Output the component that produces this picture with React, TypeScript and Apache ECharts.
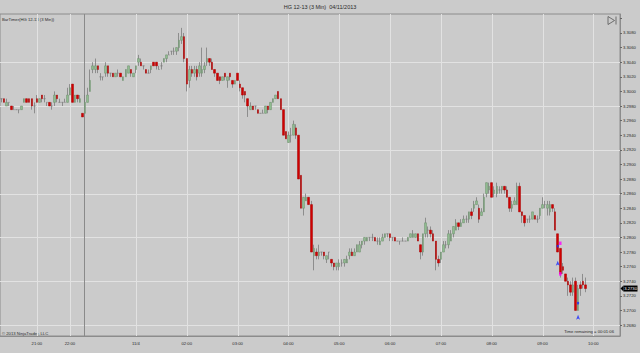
import React, { useEffect, useRef } from 'react';
import * as echarts from 'echarts';

const chartTitle = 'HG 12-13 (3 Min)  04/11/2013';
const indicatorLabel = 'BarTimer(HG 12-13 (3 Min))';
const copyrightLabel = '© 2013 NinjaTrader, LLC';
const timeRemainingLabel = 'Time remaining = 00:01:06';

// number of 3-minute bar slots on the time axis (includes empty future slots)
const slotCount = 244;

// [open, close, low, high]
const ohlc: number[][] = [
  [3.2990, 3.2990, 3.2985, 3.2990], [3.2990, 3.2985, 3.2985, 3.2990], [3.2980, 3.2985, 3.2980, 3.2990], [3.2985, 3.2985, 3.2980, 3.2985],
  [3.2980, 3.2975, 3.2975, 3.2980], [3.2975, 3.2975, 3.2975, 3.2980], [3.2975, 3.2975, 3.2975, 3.2975], [3.2975, 3.2975, 3.2970, 3.2975],
  [3.2975, 3.2980, 3.2975, 3.2980], [3.2985, 3.2990, 3.2985, 3.2990], [3.2990, 3.2985, 3.2985, 3.2990], [3.2990, 3.2985, 3.2985, 3.2990],
  [3.2990, 3.2980, 3.2975, 3.2990], [3.2980, 3.2980, 3.2970, 3.2985], [3.2990, 3.2985, 3.2985, 3.2995], [3.2985, 3.2990, 3.2985, 3.2990],
  [3.2995, 3.2990, 3.2985, 3.2995], [3.2990, 3.2990, 3.2985, 3.2995], [3.2985, 3.2985, 3.2980, 3.2985], [3.2985, 3.2980, 3.2980, 3.2985],
  [3.2980, 3.2980, 3.2975, 3.2985], [3.2985, 3.2995, 3.2980, 3.3000], [3.2995, 3.2990, 3.2985, 3.2995], [3.2985, 3.2985, 3.2985, 3.2990],
  [3.2985, 3.2985, 3.2980, 3.2985], [3.2985, 3.2985, 3.2985, 3.2990], [3.2985, 3.2995, 3.2985, 3.3005], [3.2995, 3.3005, 3.2995, 3.3010],
  [3.3010, 3.2985, 3.2985, 3.3010], [3.2985, 3.2995, 3.2985, 3.2995], [3.2995, 3.2990, 3.2985, 3.2995], [3.2985, 3.2990, 3.2985, 3.2995],
  [3.2970, 3.2965, 3.2965, 3.2970],
  // new session
  [3.2970, 3.2985, 3.2970, 3.2995], [3.2985, 3.2995, 3.2985, 3.3005], [3.3000, 3.3015, 3.3000, 3.3030], [3.3030, 3.3035, 3.3025, 3.3040],
  [3.3030, 3.3035, 3.3025, 3.3045], [3.3035, 3.3030, 3.3025, 3.3035], [3.3020, 3.3020, 3.3015, 3.3025], [3.3020, 3.3020, 3.3015, 3.3020],
  [3.3025, 3.3035, 3.3020, 3.3040], [3.3035, 3.3025, 3.3020, 3.3035], [3.3025, 3.3025, 3.3020, 3.3025], [3.3025, 3.3020, 3.3020, 3.3025],
  [3.3020, 3.3025, 3.3020, 3.3025], [3.3025, 3.3025, 3.3020, 3.3030], [3.3025, 3.3020, 3.3020, 3.3025], [3.3015, 3.3020, 3.3015, 3.3020],
  [3.3020, 3.3030, 3.3020, 3.3030], [3.3025, 3.3035, 3.3025, 3.3035], [3.3030, 3.3025, 3.3020, 3.3030], [3.3020, 3.3025, 3.3020, 3.3025],
  [3.3030, 3.3035, 3.3025, 3.3035], [3.3040, 3.3045, 3.3035, 3.3050], [3.3040, 3.3035, 3.3035, 3.3045], [3.3035, 3.3035, 3.3030, 3.3035],
  [3.3030, 3.3025, 3.3025, 3.3030], [3.3025, 3.3025, 3.3025, 3.3030], [3.3030, 3.3035, 3.3025, 3.3035], [3.3040, 3.3035, 3.3035, 3.3040],
  [3.3040, 3.3035, 3.3030, 3.3040], [3.3030, 3.3030, 3.3030, 3.3035], [3.3035, 3.3035, 3.3030, 3.3040], [3.3040, 3.3045, 3.3040, 3.3045],
  [3.3045, 3.3050, 3.3040, 3.3050], [3.3050, 3.3050, 3.3050, 3.3055], [3.3055, 3.3055, 3.3050, 3.3055], [3.3055, 3.3055, 3.3050, 3.3060],
  [3.3055, 3.3060, 3.3050, 3.3060], [3.3060, 3.3070, 3.3055, 3.3080], [3.3070, 3.3075, 3.3065, 3.3087], [3.3075, 3.3045, 3.3040, 3.3080],
  [3.3045, 3.3010, 3.3000, 3.3045], [3.3015, 3.3030, 3.3005, 3.3035], [3.3030, 3.3025, 3.3020, 3.3035], [3.3025, 3.3030, 3.3020, 3.3035],
  [3.3030, 3.3020, 3.3015, 3.3035], [3.3025, 3.3035, 3.3020, 3.3040], [3.3025, 3.3030, 3.3020, 3.3060], [3.3030, 3.3035, 3.3025, 3.3040],
  [3.3040, 3.3045, 3.3035, 3.3060], [3.3045, 3.3040, 3.3035, 3.3045], [3.3040, 3.3030, 3.3030, 3.3045], [3.3030, 3.3025, 3.3020, 3.3030],
  [3.3025, 3.3015, 3.3015, 3.3025], [3.3020, 3.3015, 3.3010, 3.3020], [3.3015, 3.3020, 3.3015, 3.3020], [3.3025, 3.3020, 3.3015, 3.3025],
  [3.3015, 3.3020, 3.3005, 3.3020], [3.3025, 3.3020, 3.3015, 3.3025], [3.3015, 3.3010, 3.3005, 3.3015], [3.3010, 3.3015, 3.3010, 3.3015],
  [3.3025, 3.3015, 3.3015, 3.3025], [3.3010, 3.3005, 3.3000, 3.3015], [3.3005, 3.2995, 3.2990, 3.3005], [3.3000, 3.2995, 3.2985, 3.3000],
  [3.2990, 3.2980, 3.2965, 3.2990], [3.2975, 3.2980, 3.2975, 3.2985], [3.2980, 3.2975, 3.2975, 3.2980], [3.2980, 3.2980, 3.2975, 3.2980],
  [3.2975, 3.2970, 3.2970, 3.2975], [3.2970, 3.2970, 3.2970, 3.2970], [3.2970, 3.2970, 3.2970, 3.2975], [3.2970, 3.2980, 3.2970, 3.2980],
  [3.2980, 3.2975, 3.2970, 3.2980], [3.2975, 3.2985, 3.2975, 3.2985], [3.2985, 3.2990, 3.2985, 3.2990], [3.2990, 3.2995, 3.2990, 3.2995],
  [3.3000, 3.2990, 3.2990, 3.3000], [3.2990, 3.2975, 3.2975, 3.2990], [3.2975, 3.2940, 3.2940, 3.2975], [3.2945, 3.2935, 3.2935, 3.2945],
  [3.2930, 3.2940, 3.2930, 3.2945], [3.2940, 3.2940, 3.2930, 3.2950], [3.2940, 3.2955, 3.2940, 3.2960], [3.2950, 3.2940, 3.2935, 3.2955],
  [3.2940, 3.2880, 3.2880, 3.2940], [3.2885, 3.2840, 3.2840, 3.2885], [3.2840, 3.2855, 3.2830, 3.2855], [3.2850, 3.2855, 3.2850, 3.2860],
  [3.2855, 3.2845, 3.2845, 3.2855], [3.2845, 3.2780, 3.2780, 3.2850], [3.2775, 3.2785, 3.2755, 3.2790], [3.2780, 3.2775, 3.2770, 3.2785],
  [3.2775, 3.2780, 3.2770, 3.2790], [3.2780, 3.2780, 3.2775, 3.2780], [3.2780, 3.2775, 3.2770, 3.2780], [3.2770, 3.2775, 3.2765, 3.2775],
  [3.2780, 3.2780, 3.2770, 3.2780], [3.2770, 3.2765, 3.2760, 3.2770], [3.2765, 3.2760, 3.2755, 3.2765], [3.2760, 3.2765, 3.2755, 3.2765],
  [3.2760, 3.2765, 3.2755, 3.2770], [3.2765, 3.2765, 3.2760, 3.2770], [3.2765, 3.2770, 3.2760, 3.2770], [3.2765, 3.2770, 3.2765, 3.2775],
  [3.2775, 3.2780, 3.2770, 3.2785], [3.2780, 3.2775, 3.2775, 3.2785], [3.2775, 3.2780, 3.2775, 3.2785], [3.2780, 3.2790, 3.2780, 3.2790],
  [3.2780, 3.2790, 3.2780, 3.2795], [3.2790, 3.2795, 3.2785, 3.2795], [3.2795, 3.2800, 3.2790, 3.2800], [3.2795, 3.2800, 3.2795, 3.2800],
  [3.2800, 3.2800, 3.2795, 3.2800], [3.2800, 3.2800, 3.2795, 3.2805], [3.2800, 3.2795, 3.2795, 3.2800], [3.2795, 3.2795, 3.2790, 3.2800],
  [3.2790, 3.2795, 3.2790, 3.2800], [3.2795, 3.2800, 3.2795, 3.2805], [3.2800, 3.2805, 3.2800, 3.2805], [3.2805, 3.2805, 3.2800, 3.2805],
  [3.2805, 3.2800, 3.2795, 3.2805], [3.2800, 3.2800, 3.2795, 3.2800], [3.2800, 3.2795, 3.2795, 3.2800], [3.2795, 3.2795, 3.2795, 3.2795],
  [3.2795, 3.2795, 3.2790, 3.2795], [3.2795, 3.2795, 3.2795, 3.2800], [3.2795, 3.2795, 3.2795, 3.2795], [3.2795, 3.2800, 3.2795, 3.2800],
  [3.2800, 3.2805, 3.2800, 3.2805], [3.2800, 3.2805, 3.2800, 3.2810], [3.2800, 3.2805, 3.2800, 3.2805], [3.2805, 3.2795, 3.2795, 3.2805],
  [3.2790, 3.2780, 3.2770, 3.2790], [3.2780, 3.2805, 3.2775, 3.2805], [3.2805, 3.2820, 3.2800, 3.2827], [3.2810, 3.2810, 3.2800, 3.2815],
  [3.2810, 3.2805, 3.2800, 3.2815], [3.2805, 3.2795, 3.2795, 3.2810], [3.2795, 3.2770, 3.2755, 3.2795], [3.2770, 3.2765, 3.2760, 3.2775],
  [3.2770, 3.2780, 3.2765, 3.2780], [3.2780, 3.2790, 3.2780, 3.2795], [3.2790, 3.2790, 3.2785, 3.2795], [3.2790, 3.2805, 3.2785, 3.2810],
  [3.2795, 3.2805, 3.2795, 3.2810], [3.2805, 3.2815, 3.2800, 3.2815], [3.2810, 3.2820, 3.2810, 3.2825], [3.2820, 3.2815, 3.2810, 3.2820],
  [3.2815, 3.2820, 3.2815, 3.2825], [3.2820, 3.2825, 3.2820, 3.2830], [3.2825, 3.2825, 3.2820, 3.2830], [3.2825, 3.2835, 3.2820, 3.2835],
  [3.2835, 3.2830, 3.2825, 3.2840], [3.2840, 3.2845, 3.2835, 3.2850], [3.2845, 3.2850, 3.2845, 3.2855], [3.2840, 3.2825, 3.2820, 3.2845],
  [3.2830, 3.2835, 3.2830, 3.2840], [3.2835, 3.2855, 3.2835, 3.2860], [3.2860, 3.2875, 3.2855, 3.2875], [3.2865, 3.2870, 3.2860, 3.2875],
  [3.2875, 3.2855, 3.2855, 3.2875], [3.2860, 3.2865, 3.2855, 3.2870], [3.2860, 3.2870, 3.2855, 3.2875], [3.2865, 3.2865, 3.2860, 3.2870],
  [3.2865, 3.2870, 3.2860, 3.2870], [3.2870, 3.2865, 3.2860, 3.2870], [3.2865, 3.2855, 3.2855, 3.2870], [3.2855, 3.2840, 3.2835, 3.2855],
  [3.2840, 3.2845, 3.2835, 3.2850], [3.2845, 3.2850, 3.2845, 3.2855], [3.2845, 3.2870, 3.2845, 3.2875], [3.2870, 3.2835, 3.2835, 3.2875],
  [3.2835, 3.2830, 3.2820, 3.2835], [3.2830, 3.2820, 3.2815, 3.2830], [3.2825, 3.2825, 3.2820, 3.2825], [3.2825, 3.2825, 3.2820, 3.2830],
  [3.2825, 3.2835, 3.2825, 3.2835], [3.2830, 3.2825, 3.2825, 3.2830], [3.2825, 3.2825, 3.2820, 3.2830], [3.2830, 3.2840, 3.2825, 3.2840],
  [3.2840, 3.2845, 3.2840, 3.2855], [3.2845, 3.2845, 3.2840, 3.2850], [3.2840, 3.2845, 3.2830, 3.2850], [3.2835, 3.2845, 3.2830, 3.2850],
  [3.2845, 3.2840, 3.2835, 3.2845], [3.2835, 3.2810, 3.2810, 3.2840], [3.2805, 3.2780, 3.2780, 3.2805], [3.2785, 3.2750, 3.2745, 3.2785],
  [3.2760, 3.2755, 3.2750, 3.2765], [3.2750, 3.2740, 3.2740, 3.2750], [3.2740, 3.2735, 3.2720, 3.2745], [3.2735, 3.2725, 3.2720, 3.2740],
  [3.2725, 3.2735, 3.2720, 3.2745], [3.2740, 3.2700, 3.2700, 3.2745], [3.2700, 3.2730, 3.2700, 3.2735], [3.2735, 3.2730, 3.2720, 3.2740],
  [3.2740, 3.2735, 3.2730, 3.2750], [3.2735, 3.2730, 3.2725, 3.2745],
];

// time-axis labels and the bar slot each one sits on
const tickBars = [14, 27, 53, 73, 93, 113, 133, 153, 173, 193, 213, 233];
const tickLabels = ['21:00', '22:00', '11/4', '02:00', '03:00', '04:00', '05:00', '06:00', '07:00', '08:00', '09:00', '10:00'];
const sessionBreakBar = 33;

// price axis
const priceMin = 3.2665;
const priceMax = 3.3106;
const priceStep = 0.002;
const labelTop = 3.3080;
const labelBottom = 3.2680;
const gridPrices = [3.3040, 3.2980, 3.2920, 3.2860, 3.2800, 3.2740, 3.2680];

// strategy markers [bar, price]
const pinkMarks = [[220, 3.2792], [220, 3.2750]];
const blueDots = [[219, 3.2788], [227, 3.2710]];
const blueArrows = [[219, 3.2768], [227, 3.2694]];

const FONT = 'Liberation Sans, Arial, sans-serif';
const BG = '#cbcbcb';
const GRID_LINE = '#e2e2e2';
const FRAME = '#8c8c8c';
const TEXT = '#2a2a2a';

export default function App() {
  const ref = useRef<HTMLDivElement>(null);

  useEffect(() => {
    document.body.style.margin = '0';
    const chart = echarts.init(ref.current!, undefined, { renderer: 'svg' });
    const slots = Array.from({ length: slotCount }, (_, i) => String(i));
    const bodies = ohlc.map(([o, c]) => [o, c, Math.min(o, c), Math.max(o, c)]);
    const lastClose = ohlc[ohlc.length - 1][1];

    chart.setOption({
      animation: false,
      backgroundColor: BG,
      title: {
        text: chartTitle,
        left: 'center',
        top: 4,
        padding: 0,
        textStyle: { fontSize: 5.5, fontWeight: 'normal', color: TEXT, fontFamily: FONT },
      },
      grid: {
        left: 0,
        right: 20,
        top: 14,
        bottom: 17,
        show: true,
        backgroundColor: BG,
        borderColor: FRAME,
        borderWidth: 1,
        containLabel: false,
        outerBoundsMode: 'none',
      },
      xAxis: {
        type: 'category',
        data: slots,
        boundaryGap: true,
        axisLine: { show: true, lineStyle: { color: FRAME } },
        axisTick: { show: false },
        splitLine: { show: false },
        axisLabel: {
          interval: (idx: number) => tickBars.includes(idx),
          formatter: (_v: string, idx: number) => {
            const k = tickBars.indexOf(idx);
            return k >= 0 ? tickLabels[k] : '';
          },
          fontSize: 4.2,
          color: TEXT,
          fontFamily: FONT,
          margin: 5,
        },
      },
      yAxis: {
        type: 'value',
        position: 'right',
        min: priceMin,
        max: priceMax,
        minInterval: priceStep,
        maxInterval: priceStep,
        splitNumber: 22,
        axisLine: { show: true, lineStyle: { color: FRAME } },
        axisTick: { show: true, length: 2, lineStyle: { color: '#666' } },
        splitLine: { show: false },
        axisLabel: {
          showMinLabel: false,
          showMaxLabel: false,
          formatter: (v: number) => (v <= labelTop + 1e-6 && v >= labelBottom - 1e-6 ? v.toFixed(4) : ''),
          fontSize: 4.2,
          color: TEXT,
          fontFamily: FONT,
          margin: 3,
        },
      },
      series: [
        {
          name: 'wicks',
          type: 'candlestick',
          data: ohlc,
          barWidth: 0.8,
          z: 2,
          itemStyle: {
            color: '#7c7c7c', color0: '#7c7c7c', borderColor: '#7c7c7c', borderColor0: '#7c7c7c', borderColorDoji: '#7c7c7c', borderWidth: 0.8,
          },
        },
        {
          name: 'bodies',
          type: 'candlestick',
          data: bodies,
          barWidth: 2,
          z: 3,
          itemStyle: {
            color: '#8fbc8f', color0: '#cf0000', borderColor: '#6e8f6e', borderColor0: '#a80000', borderColorDoji: '#7c7c7c', borderWidth: 0.5,
          },
        },
        { type: 'scatter', data: pinkMarks, symbol: 'rect', symbolSize: [2.5, 3.5], z: 4, itemStyle: { color: '#ff00ff' } },
        { type: 'scatter', data: blueDots, symbol: 'rect', symbolSize: [2, 2.5], z: 4, itemStyle: { color: '#1a2cff' } },
        { type: 'scatter', data: blueArrows, symbol: 'arrow', symbolSize: [3, 5], z: 4, itemStyle: { color: '#1a2cff' } },
      ],
    });

    // grid lines and last-price tag placed through the chart's own scales
    const px = (i: number) => chart.convertToPixel({ xAxisIndex: 0 }, String(i)) as number;
    const py = (p: number) => chart.convertToPixel({ yAxisIndex: 0 }, p) as number;
    const top = py(priceMax);
    const bottom = py(priceMin);
    const left = px(0) - (px(1) - px(0)) / 2;
    const right = px(slotCount - 1) + (px(1) - px(0)) / 2;
    const crisp = (v: number) => Math.round(v) + 0.5;

    const hLines = gridPrices.map((p) => ({
      type: 'line', z: 1, silent: true,
      shape: { x1: left, y1: crisp(py(p)), x2: right, y2: crisp(py(p)) },
      style: { stroke: GRID_LINE, lineWidth: 1 },
    }));
    const vLines = tickBars.map((b) => ({
      type: 'line', z: 1, silent: true,
      shape: { x1: crisp(px(b)), y1: top, x2: crisp(px(b)), y2: bottom },
      style: { stroke: GRID_LINE, lineWidth: 1 },
    }));
    const breakX = crisp((px(sessionBreakBar - 1) + px(sessionBreakBar)) / 2);
    const tagY = py(lastClose);

    chart.setOption({
      graphic: {
        elements: [
          ...hLines,
          ...vLines,
          { type: 'line', z: 1, silent: true, shape: { x1: breakX, y1: top, x2: breakX, y2: bottom }, style: { stroke: '#8a8a8a', lineWidth: 1 } },
          { type: 'polygon', z: 10, shape: { points: [[right + 0.5, tagY], [right + 3.5, tagY - 3], [right + 3.5, tagY + 3]] }, style: { fill: '#000' } },
          { type: 'rect', z: 10, shape: { x: right + 3.5, y: tagY - 3, width: 14, height: 6 }, style: { fill: '#000' } },
          { type: 'text', z: 11, x: right + 4.2, y: tagY, style: { text: lastClose.toFixed(4), fontSize: 4.2, fill: '#fff', fontFamily: FONT, verticalAlign: 'middle' } },
          { type: 'text', x: 2, y: 19, style: { text: indicatorLabel, fontSize: 4.2, fill: TEXT, fontFamily: FONT, verticalAlign: 'middle' } },
          { type: 'text', x: 2, y: 333, style: { text: copyrightLabel, fontSize: 4.2, fill: TEXT, fontFamily: FONT, verticalAlign: 'middle' } },
          { type: 'text', x: 614, y: 331, style: { text: timeRemainingLabel, fontSize: 4.2, fill: TEXT, fontFamily: FONT, align: 'right', verticalAlign: 'middle' } },
          { type: 'polygon', shape: { points: [[608, 16.5], [614.5, 20.5], [608, 24.5]] }, style: { fill: 'none', stroke: '#555', lineWidth: 0.8 } },
          { type: 'line', shape: { x1: 616, y1: 16.5, x2: 616, y2: 24.5 }, style: { stroke: '#555', lineWidth: 0.8 } },
        ],
      },
    });
    return () => chart.dispose();
  }, []);

  return <div ref={ref} style={{ position: 'fixed', left: 0, top: 0, width: 640, height: 353 }} />;
}
